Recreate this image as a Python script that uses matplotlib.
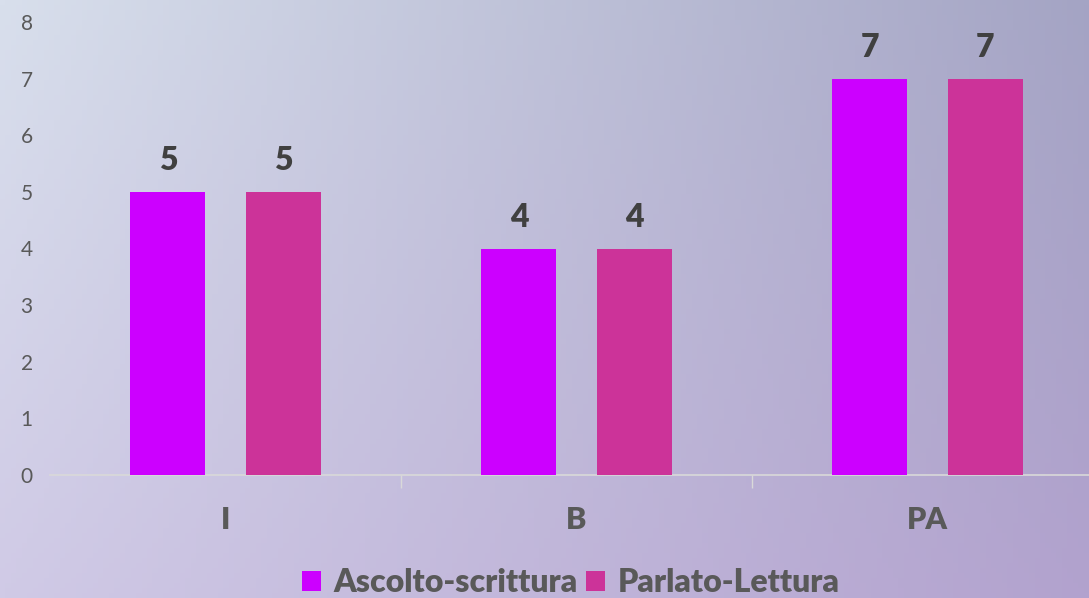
import numpy as np
import matplotlib.pyplot as plt

categories = ["I", "B", "PA"]
ascolto = [5, 4, 7]
parlato = [5, 4, 7]
series_names = ["Ascolto-scrittura", "Parlato-Lettura"]
colors = ["#CC00FF", "#CC3399"]

plt.rcParams['font.family'] = ['Lato', 'DejaVu Sans']

fig = plt.figure(figsize=(10.89, 5.98), dpi=100)

# background gradient (approximation of the starry image)
bg = fig.add_axes([0, 0, 1, 1], zorder=-10)
tl = np.array([216, 223, 236]) / 255
tr = np.array([164, 164, 196]) / 255
bl = np.array([208, 202, 230]) / 255
br = np.array([178, 162, 206]) / 255
u = np.linspace(0, 1, 200)[None, :, None]
v = np.linspace(0, 1, 120)[:, None, None]
img = (1 - v) * ((1 - u) * tl + u * tr) + v * ((1 - u) * bl + u * br)
bg.imshow(img, aspect="auto", extent=[0, 1, 0, 1], origin="upper")
bg.axis("off")

ax = fig.add_axes([50 / 1089, 123 / 598, 1053 / 1089, 453 / 598])
ax.patch.set_alpha(0)

x = np.arange(len(categories))
w = 0.214
off = 0.164
for vals, col, name, sign in [(ascolto, colors[0], series_names[0], -1),
                               (parlato, colors[1], series_names[1], 1)]:
    bars = ax.bar(x + sign * off, vals, width=w, color=col, label=name, zorder=3)
    for b, val in zip(bars, vals):
        ax.text(b.get_x() + b.get_width() / 2, val + 0.3, str(val),
                ha="center", va="bottom", fontsize=23, fontweight="heavy",
                color="#404040")

ax.set_xlim(-0.5, 2.5)
ax.set_ylim(0, 8)
ax.set_yticks(range(0, 9))
ax.tick_params(axis="y", length=0, labelsize=15, labelcolor="#595959", pad=12.5)
ax.set_xticks(x)
ax.set_xticklabels(categories)
ax.tick_params(axis="x", length=0, labelsize=22, labelcolor="#595959", pad=22)
for lab in ax.get_xticklabels():
    lab.set_fontweight("heavy")
ax.set_xticks([0.5, 1.5], minor=True)
ax.tick_params(axis="x", which="minor", length=9, color="#d9d9d9", width=1)

for s in ["top", "right", "left"]:
    ax.spines[s].set_visible(False)
ax.spines["bottom"].set_color("#d9d9d9")
ax.spines["bottom"].set_linewidth(1.2)

leg = fig.legend(loc="center", bbox_to_anchor=(571 / 1089, 1 - 583 / 598),
                 ncol=2, frameon=False, handlelength=0.6, handleheight=0.6,
                 handletextpad=0.4, columnspacing=0.25,
                 prop={"size": 23, "weight": "heavy"})
for t in leg.get_texts():
    t.set_color("#595959")

fig.savefig("out.png", dpi=100)
